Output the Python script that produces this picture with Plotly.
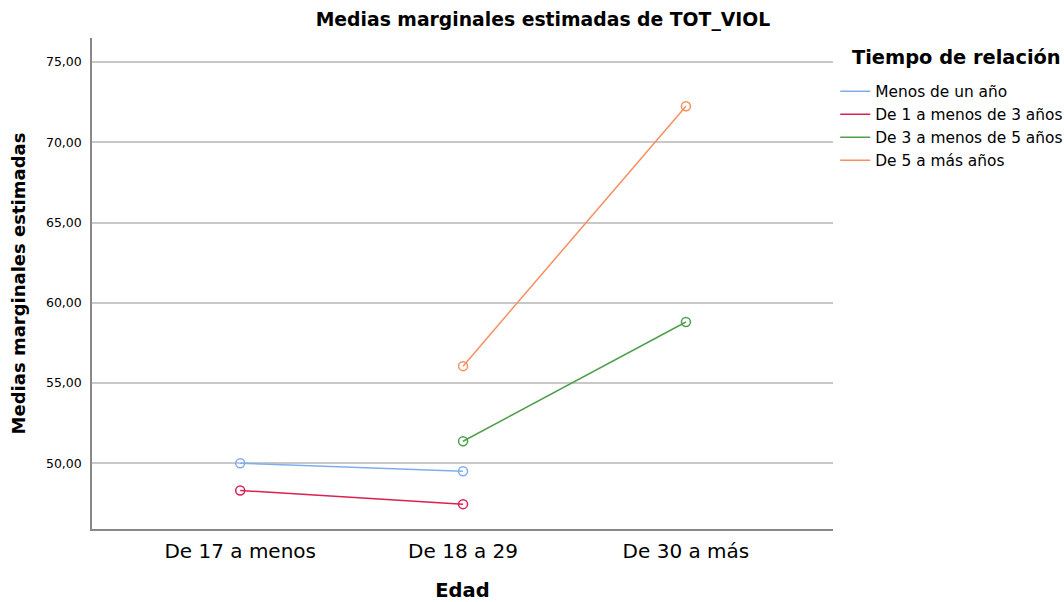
import plotly.graph_objects as go

# Categorías del eje X (Edad)
edad = ["De 17 a menos", "De 18 a 29", "De 30 a más"]

# Series: Tiempo de relación (None = sin dato)
series_nombres = ["Menos de un año", "De 1 a menos de 3 años",
                  "De 3 a menos de 5 años", "De 5 a más años"]
menos_un_ano = [50.0, 49.5, None]
uno_a_tres = [48.3, 47.45, None]
tres_a_cinco = [None, 51.37, 58.8]
cinco_a_mas = [None, 56.05, 72.25]

y_ticks = [50, 55, 60, 65, 70, 75]
y_tick_labels = ["50,00", "55,00", "60,00", "65,00", "70,00", "75,00"]

colores = ["#7EAEEE", "#DA2151", "#4F9F4C", "#F68E5E"]
valores = [menos_un_ano, uno_a_tres, tres_a_cinco, cinco_a_mas]

FONT = "DejaVu Sans, Verdana, sans-serif"

fig = go.Figure()

for nombre, vals, col in zip(series_nombres, valores, colores):
    # línea + marcadores (sin leyenda)
    fig.add_trace(go.Scatter(
        x=edad, y=vals, mode="lines+markers",
        line=dict(color=col, width=1.5),
        marker=dict(symbol="circle-open", size=9, color=col, line=dict(width=1.5)),
        showlegend=False, connectgaps=False,
    ))
    # entrada de leyenda sólo con línea
    fig.add_trace(go.Scatter(
        x=[None], y=[None], mode="lines", name=nombre,
        line=dict(color=col, width=1.5),
    ))

fig.update_layout(
    width=1064, height=602,
    margin=dict(l=92, r=231, t=38, b=73),
    paper_bgcolor="white", plot_bgcolor="white",
    font=dict(family=FONT, color="#000000"),
    title=dict(text="<b>Medias marginales estimadas de TOT_VIOL</b>",
               x=0.5103, xanchor="center", y=0.967, yanchor="middle",
               font=dict(size=18.8, family=FONT)),
    showlegend=True,
    legend=dict(xref="container", yref="container", x=0.785, xanchor="left",
                y=0.876, yanchor="top",
                font=dict(size=15.4, family=FONT), bgcolor="rgba(0,0,0,0)",
                tracegroupgap=0),
    annotations=[dict(text="<b>Tiempo de relación</b>", xref="paper", yref="paper",
                      x=1.023, y=1.0 - (58 - 38) / 491, xanchor="left", yanchor="middle",
                      showarrow=False, font=dict(size=19.4, family=FONT))],
)

fig.update_xaxes(
    type="category", range=[-0.665, 2.66], automargin=False,
    showline=True, linecolor="#888888", linewidth=1.5,
    showgrid=False, ticks="", ticklabelstandoff=3, tickfont=dict(size=20, family=FONT),
    title=dict(text="<b>Edad</b>", font=dict(size=19.5, family=FONT), standoff=27),
)

fig.update_yaxes(
    range=[45.9, 76.5], tickvals=y_ticks, ticktext=y_tick_labels, automargin=False,
    showline=True, linecolor="#888888", linewidth=1.5,
    showgrid=True, gridcolor="#C8C8C8", gridwidth=1.5, zeroline=False,
    ticks="", ticklabelstandoff=6, tickfont=dict(size=12.5, family=FONT),
    title=dict(text="<b>Medias marginales estimadas</b>", font=dict(size=18, family=FONT),
               standoff=16),
)

# sin margen de página para que la figura ocupe exactamente la ventana
fig.write_html("out.html", config={"displayModeBar": False},
               post_script="document.body.style.margin='0';")
